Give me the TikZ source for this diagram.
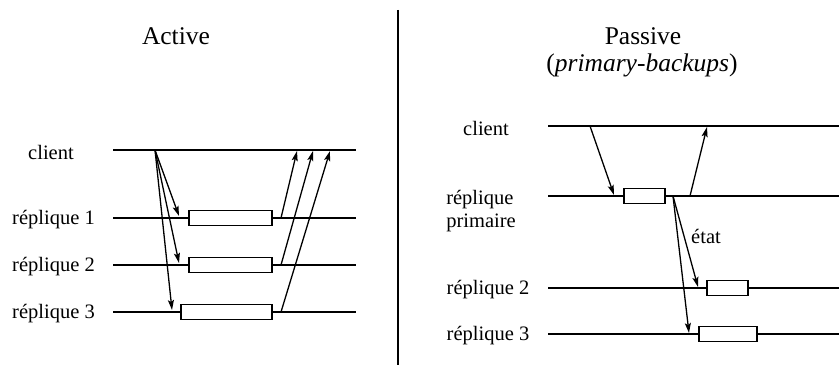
\documentclass[tikz,border=0pt]{standalone}
\usepackage{fontspec}
\setmainfont{Liberation Serif}
\usetikzlibrary{arrows.meta}
\tikzset{
	msg/.style={-{Stealth[length=10pt,width=6pt,inset=2pt]},line width=1.3pt},
	tline/.style={line width=1.4pt},
	proc/.style={draw,line width=1.4pt,fill=white,minimum height=15pt,inner sep=0pt},
	lab/.style={font=\fontsize{20.5}{23}\selectfont,align=left},
	ttl/.style={font=\fontsize{25.5}{28}\selectfont}
}
\begin{document}
\begin{tikzpicture}[x=1pt,y=-1pt]
				\useasboundingbox (0,0) rectangle (839,366);
				\draw[line width=1.6pt] (398,10) -- (398,365);
				% actif
				\node[ttl] (tA) at (176,36) {Active};
				\node[lab] (lc) at (51,152) {client};
				\node[lab] (l1) at (53.5,220) {réplique 1};
				\node[lab] (l2) at (53.5,267) {réplique 2};
				\node[lab] (l3) at (53.5,314) {réplique 3};
				\draw[tline] (113,150) coordinate (c0) -- (356,150) coordinate (c9);
				\draw[tline] (113,218) coordinate (a0) -- (356,218) coordinate (a9);
				\draw[tline] (113,265) coordinate (b0) -- (356,265) coordinate (b9);
				\draw[tline] (113,312) coordinate (d0) -- (356,312) coordinate (d9);
				\node[proc,minimum width=83pt] (p1) at (230.5,218) {};
				\node[proc,minimum width=83pt] (p2) at (230.5,265) {};
				\node[proc,minimum width=91pt] (p3) at (226.5,312) {};
				\coordinate (cq) at (155,150);
				\coordinate (q1) at (179,216);
				\coordinate (q2) at (179,263);
				\coordinate (q3) at (172,310);
				\draw[msg] (cq) -- (q1);
				\draw[msg] (cq) -- (q2);
				\draw[msg] (cq) -- (q3);
				\coordinate (s1) at (281,218);
				\coordinate (s2) at (281,265);
				\coordinate (s3) at (281,312);
				\coordinate (e1) at (297,151);
				\coordinate (e2) at (313,151);
				\coordinate (e3) at (330,151);
				\draw[msg] (s1) -- (e1);
				\draw[msg] (s2) -- (e2);
				\draw[msg] (s3) -- (e3);
				% passif
				\node[ttl] (tP) at (643,36) {Passive};
				\node[ttl] (tB) at (642,65) {(\textit{primary-backups})};
				\node[lab] (rc) at (486,128) {client};
				\node[lab] (rp) at (481,211) {réplique\\primaire};
				\node[lab] (r2) at (488,290) {réplique 2};
				\node[lab] (r3) at (488,336) {réplique 3};
				\draw[tline] (548,126) -- (839,126);
				\draw[tline] (548,196) -- (839,196);
				\draw[tline] (548,288) -- (839,288);
				\draw[tline] (548,334) -- (839,334);
				\node[proc,minimum width=41pt] (pp) at (644.5,196) {};
				\node[proc,minimum width=41pt] (pb2) at (727.5,288) {};
				\node[proc,minimum width=58pt] (pb3) at (728,334) {};
				\coordinate (rq) at (590,126);
				\coordinate (rq1) at (614,195);
				\coordinate (rs) at (690,196);
				\coordinate (rs1) at (707,127);
				\coordinate (st) at (673,196);
				\coordinate (st2) at (698,287);
				\coordinate (st3) at (689,333);
				\draw[msg] (rq) -- (rq1);
				\draw[msg] (rs) -- (rs1);
				\draw[msg] (st) -- (st2);
				\draw[msg] (st) -- (st3);
				\node[lab] (et) at (706,236) {état};
			\end{tikzpicture}
\end{document}
